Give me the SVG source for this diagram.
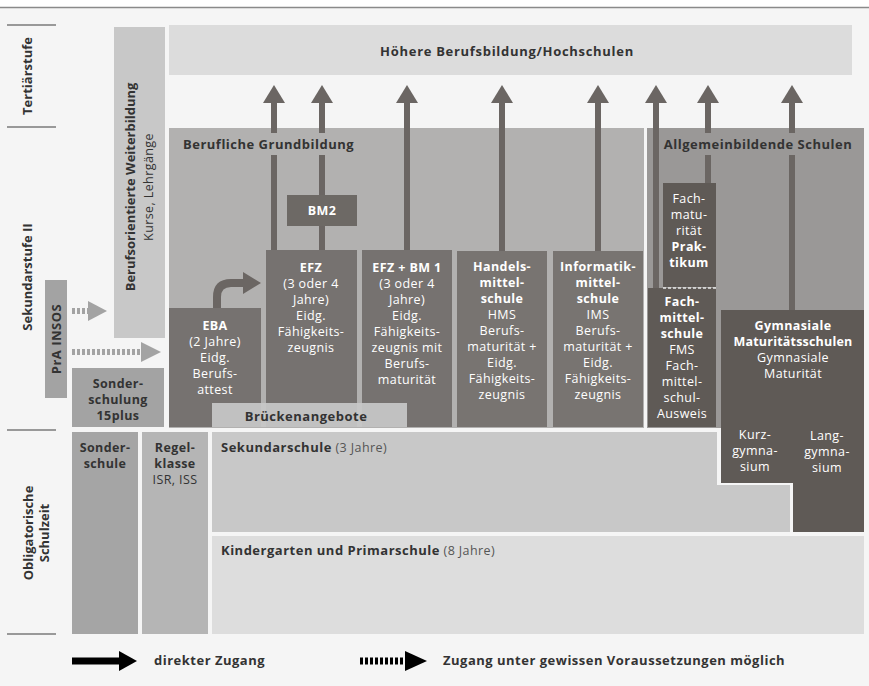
<svg xmlns="http://www.w3.org/2000/svg" width="869" height="686" viewBox="0 0 869 686">
<style>
text{font-family:"Open Sans","Noto Sans","DejaVu Sans",sans-serif;font-size:12.5px;letter-spacing:0.4px}
.b{font-weight:bold}
.w{fill:#ffffff}
.d{fill:#333333}
.g{fill:#555555}
.c{text-anchor:middle}
.lab{font-weight:bold;font-size:13px;fill:#333333;letter-spacing:0.5px}
.ml{font-size:12.5px;letter-spacing:0.4px}
.ns{letter-spacing:0}
.dk{fill:#767270}
.dkr{fill:#5f5a56}
.shaft{stroke:#6b6663;stroke-width:6;fill:none}
.head{fill:#6b6663}
.dot{stroke:#a3a3a3;stroke-width:6;stroke-dasharray:3 2;fill:none}
.sep{stroke:#7a7a7a;stroke-width:1.5}
</style>
<rect x="0" y="0" width="869" height="686" fill="#ffffff"/>
<rect x="0" y="8" width="869" height="678" fill="#f5f5f5"/>
<line x1="0" y1="7.5" x2="869" y2="7.5" stroke="#8a8a8a" stroke-width="1.5"/>

<g id="stufen">
<line class="sep" x1="7" y1="25" x2="56" y2="25"/>
<line class="sep" x1="7" y1="127" x2="56" y2="127"/>
<line class="sep" x1="7" y1="430" x2="56" y2="430"/>
<line class="sep" x1="7" y1="634" x2="56" y2="634"/>
<text class="lab c ns" transform="translate(32,76) rotate(-90)">Tertiärstufe</text>
<text class="lab c ns" transform="translate(32,277) rotate(-90)">Sekundarstufe II</text>
<g transform="translate(36,533) rotate(-90)">
<text class="lab c ns" x="0" y="-3">Obligatorische</text>
<text class="lab c ns" x="0" y="13">Schulzeit</text>
</g>
</g>

<g id="hoehere">
<rect x="169" y="25" width="683" height="50" fill="#dcdcdc"/>
<text class="lab c" x="507" y="56" style="letter-spacing:0.7px">Höhere Berufsbildung/Hochschulen</text>
</g>

<g id="weiterbildung">
<rect x="114" y="27" width="51" height="311" fill="#c8c8c8"/>
<text class="lab c ns" transform="translate(135,187) rotate(-90)">Berufsorientierte Weiterbildung</text>
<text class="d c" transform="translate(153,187) rotate(-90)">Kurse, Lehrgänge</text>
</g>

<g id="berufliche">
<rect x="169" y="128" width="475" height="300" fill="#b2b1b0"/>
</g>
<g id="allgemein">
<rect x="647" y="128" width="217" height="300" fill="#9a9897"/>
</g>

<g id="prainsos">
<rect x="45" y="280" width="22" height="118" fill="#a3a3a3"/>
<text class="lab c" transform="translate(61,339) rotate(-90)">PrA INSOS</text>
</g>

<g id="sonderschulung">
<rect x="72" y="368" width="92" height="59" fill="#a3a3a3"/>
<text class="lab ml c" x="118" y="388">Sonder-</text>
<text class="lab ml c" x="118" y="404">schulung</text>
<text class="lab ml c" x="118" y="420">15plus</text>
</g>

<g id="eba">
<rect class="dk" x="169" y="308" width="92" height="119"/>
<g class="w c">
<text class="b" x="215" y="330">EBA</text>
<text x="215" y="346">(2 Jahre)</text>
<text x="215" y="362">Eidg.</text>
<text x="215" y="378">Berufs-</text>
<text x="215" y="394">attest</text>
</g>
</g>

<g id="efz">
<rect class="dk" x="266" y="250" width="91" height="177"/>
<g class="w c">
<text class="b" x="311" y="272">EFZ</text>
<text x="311" y="288">(3 oder 4</text>
<text x="311" y="304">Jahre)</text>
<text x="311" y="320">Eidg.</text>
<text x="311" y="336">Fähigkeits-</text>
<text x="311" y="352">zeugnis</text>
</g>
</g>

<g id="bm2">
<rect x="287" y="195" width="70" height="31" fill="#6d6965"/>
<text class="b w c" x="322" y="215">BM2</text>
</g>

<g id="efzbm1">
<rect class="dk" x="362" y="250" width="90" height="177"/>
<g class="w c">
<text class="b" x="407" y="272">EFZ + BM 1</text>
<text x="407" y="288">(3 oder 4</text>
<text x="407" y="304">Jahre)</text>
<text x="407" y="320">Eidg.</text>
<text x="407" y="336">Fähigkeits-</text>
<text x="407" y="352">zeugnis mit</text>
<text x="407" y="368">Berufs-</text>
<text x="407" y="384">maturität</text>
</g>
</g>

<g id="hms">
<rect x="457" y="251" width="90" height="176" fill="#787471"/>
<g class="w c">
<text class="b" x="502" y="271">Handels-</text>
<text class="b" x="502" y="287">mittel-</text>
<text class="b" x="502" y="303">schule</text>
<text x="502" y="319">HMS</text>
<text x="502" y="335">Berufs-</text>
<text x="502" y="351">maturität +</text>
<text x="502" y="367">Eidg.</text>
<text x="502" y="383">Fähigkeits-</text>
<text x="502" y="399">zeugnis</text>
</g>
</g>

<g id="ims">
<rect x="553" y="251" width="90" height="176" fill="#787471"/>
<g class="w c">
<text class="b" x="598" y="271">Informatik-</text>
<text class="b" x="598" y="287">mittel-</text>
<text class="b" x="598" y="303">schule</text>
<text x="598" y="319">IMS</text>
<text x="598" y="335">Berufs-</text>
<text x="598" y="351">maturität +</text>
<text x="598" y="367">Eidg.</text>
<text x="598" y="383">Fähigkeits-</text>
<text x="598" y="399">zeugnis</text>
</g>
</g>

<g id="fachmaturitaet">
<rect class="dkr" x="663" y="183" width="53" height="104"/>
<g class="w c">
<text x="689" y="203">Fach-</text>
<text x="689" y="219">matu-</text>
<text x="689" y="235">rität</text>
<text class="b" x="689" y="251">Prak-</text>
<text class="b" x="689" y="267">tikum</text>
</g>
</g>

<g id="fms">
<rect class="dkr" x="648" y="288" width="68" height="139"/>
<line x1="663" y1="288" x2="716" y2="288" stroke="#e8e8e8" stroke-width="1.5" stroke-dasharray="3 2"/>
<g class="w c">
<text class="b" x="682" y="306">Fach-</text>
<text class="b" x="682" y="322">mittel-</text>
<text class="b" x="682" y="338">schule</text>
<text x="682" y="354">FMS</text>
<text x="682" y="370">Fach-</text>
<text x="682" y="386">mittel-</text>
<text x="682" y="402">schul-</text>
<text x="682" y="418">Ausweis</text>
</g>
</g>

<g id="gymnasium">
<path class="dkr" d="M721,310 H864 V532 H793 V483 H721 Z"/>
<g class="w c">
<text class="b" x="793" y="330">Gymnasiale</text>
<text class="b" x="793" y="346" style="letter-spacing:0.2px">Maturitätsschulen</text>
<text x="793" y="362">Gymnasiale</text>
<text x="793" y="378">Maturität</text>
<text x="755" y="439">Kurz-</text>
<text x="755" y="455">gymna-</text>
<text x="755" y="471">sium</text>
<text x="827" y="440">Lang-</text>
<text x="827" y="456">gymna-</text>
<text x="827" y="472">sium</text>
</g>
</g>

<g id="brueckenangebote">
<rect x="212" y="403" width="195" height="24" fill="#c8c8c8" fill-opacity="0.92"/>
<text class="lab c" x="306" y="421">Brückenangebote</text>
</g>

<g id="sonderschule">
<rect x="72" y="432" width="66" height="202" fill="#a5a5a5"/>
<text class="lab ml c" x="105" y="452">Sonder-</text>
<text class="lab ml c" x="105" y="468">schule</text>
</g>

<g id="regelklasse">
<rect x="142" y="432" width="66" height="202" fill="#b5b5b5"/>
<text class="lab ml c" x="175" y="452">Regel-</text>
<text class="lab ml c" x="175" y="468">klasse</text>
<text class="d c" x="175" y="484">ISR, ISS</text>
</g>

<g id="sekundarschule">
<path d="M212,432 H717 V485 H790 V532 H212 Z" fill="#c8c8c8"/>
<text x="221" y="452"><tspan class="lab">Sekundarschule</tspan><tspan class="g"> (3 Jahre)</tspan></text>
</g>

<g id="primarschule">
<rect x="212" y="536" width="652" height="98" fill="#dddddd"/>
<text x="221" y="555"><tspan class="lab">Kindergarten und Primarschule</tspan><tspan class="g"> (8 Jahre)</tspan></text>
</g>

<g id="connectors">
<path class="shaft" d="M274,250 V155 M274,133 V102"/>
<polygon class="head" points="263,103 274,85 285,103"/>
<path class="shaft" d="M322,250 V226 M322,195 V155 M322,133 V102"/>
<polygon class="head" points="311,103 322,85 333,103"/>
<path class="shaft" d="M407,250 V102"/>
<polygon class="head" points="396,103 407,85 418,103"/>
<path class="shaft" d="M502,251 V102"/>
<polygon class="head" points="491,103 502,85 513,103"/>
<path class="shaft" d="M598,251 V102"/>
<polygon class="head" points="587,103 598,85 609,103"/>
<path class="shaft" d="M656,288 V102"/>
<polygon class="head" points="645,103 656,85 667,103"/>
<path class="shaft" d="M708,183 V155 M708,133 V102"/>
<polygon class="head" points="697,103 708,85 719,103"/>
<path class="shaft" d="M792,310 V155 M792,133 V102"/>
<polygon class="head" points="781,103 792,85 803,103"/>
<path d="M217,308 V297 Q217,283 231,283 H245" stroke="#6b6663" stroke-width="8" fill="none"/>
<polygon class="head" points="243,272 261,283 243,294"/>
<path class="dot" d="M72,311 H88"/>
<polygon points="88,301 107,311 88,321" fill="#a3a3a3"/>
<path class="dot" d="M72,352 H141"/>
<polygon points="141,342 161,352 141,362" fill="#a3a3a3"/>
</g>

<g id="labels">
<text class="lab" x="183" y="149">Berufliche Grundbildung</text>
<text class="lab w c" x="758" y="149">Allgemeinbildende Schulen</text>
</g>

<g id="legend">
<path d="M72,661 H121" stroke="#000" stroke-width="7"/>
<polygon points="119,651 137,661 119,671" fill="#000"/>
<text class="lab" x="154" y="665">direkter Zugang</text>
<path d="M360,661 H405" stroke="#000" stroke-width="7" stroke-dasharray="3 2"/>
<polygon points="405,651 427,661 405,671" fill="#000"/>
<text class="lab" x="443" y="665">Zugang unter gewissen Voraussetzungen möglich</text>
</g>
</svg>
